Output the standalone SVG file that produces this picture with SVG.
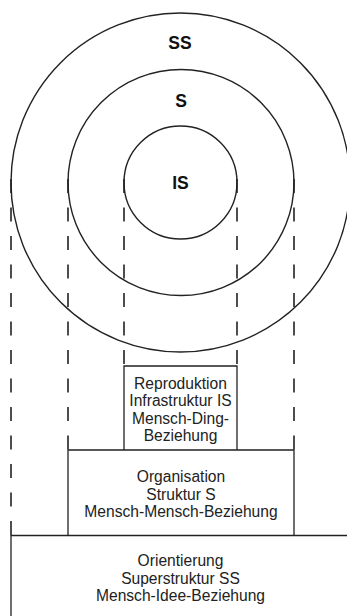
<svg xmlns="http://www.w3.org/2000/svg" width="347" height="616" viewBox="0 0 347 616">
<style>
.c{fill:none;stroke:#222;stroke-width:1.4}
.b{fill:none;stroke:#222;stroke-width:1.3}
.d{fill:none;stroke:#222;stroke-width:1.6;stroke-dasharray:14 14.5}
.lb{font-family:"Liberation Sans",Arial,sans-serif;font-weight:bold;font-size:17.5px;fill:#111;text-anchor:middle}
.t{font-family:"Liberation Sans",Arial,sans-serif;font-size:15.6px;fill:#222;text-anchor:middle}
</style>
<rect width="347" height="616" fill="#fff"/>
<g id="circle-SS"><circle class="c" cx="180.5" cy="182.5" r="169.5"/><text class="lb" x="180" y="48.5">SS</text></g>
<g id="circle-S"><circle class="c" cx="181" cy="182.5" r="113"/><text class="lb" x="181" y="107">S</text></g>
<g id="circle-IS"><circle class="c" cx="180.5" cy="182.5" r="56.5"/><text class="lb" x="180.5" y="189">IS</text></g>
<g id="connectors">
<line class="d" x1="11" y1="179" x2="11" y2="535.5"/>
<line class="d" x1="68" y1="179" x2="68" y2="450"/>
<line class="d" x1="124" y1="179" x2="124" y2="366"/>
<line class="d" x1="237" y1="179" x2="237" y2="366"/>
<line class="d" x1="294" y1="179" x2="294" y2="450"/>
</g>
<g id="box-IS"><path class="b" d="M124 450V366H237V450"/>
<text class="t" x="180.5" y="388.5">Reproduktion</text>
<text class="t" x="180.5" y="406">Infrastruktur IS</text>
<text class="t" x="180.5" y="423.5">Mensch-Ding-</text>
<text class="t" x="180.5" y="441">Beziehung</text></g>
<g id="box-S"><path class="b" d="M68 535.5V450H294V535.5"/>
<text class="t" x="181" y="482">Organisation</text>
<text class="t" x="181" y="499.5">Struktur S</text>
<text class="t" x="181" y="517">Mensch-Mensch-Beziehung</text></g>
<g id="box-SS"><path class="b" d="M11 616V535.5H347"/>
<text class="t" x="180.5" y="566">Orientierung</text>
<text class="t" x="180.5" y="583.5">Superstruktur SS</text>
<text class="t" x="180.5" y="601">Mensch-Idee-Beziehung</text></g>
</svg>
